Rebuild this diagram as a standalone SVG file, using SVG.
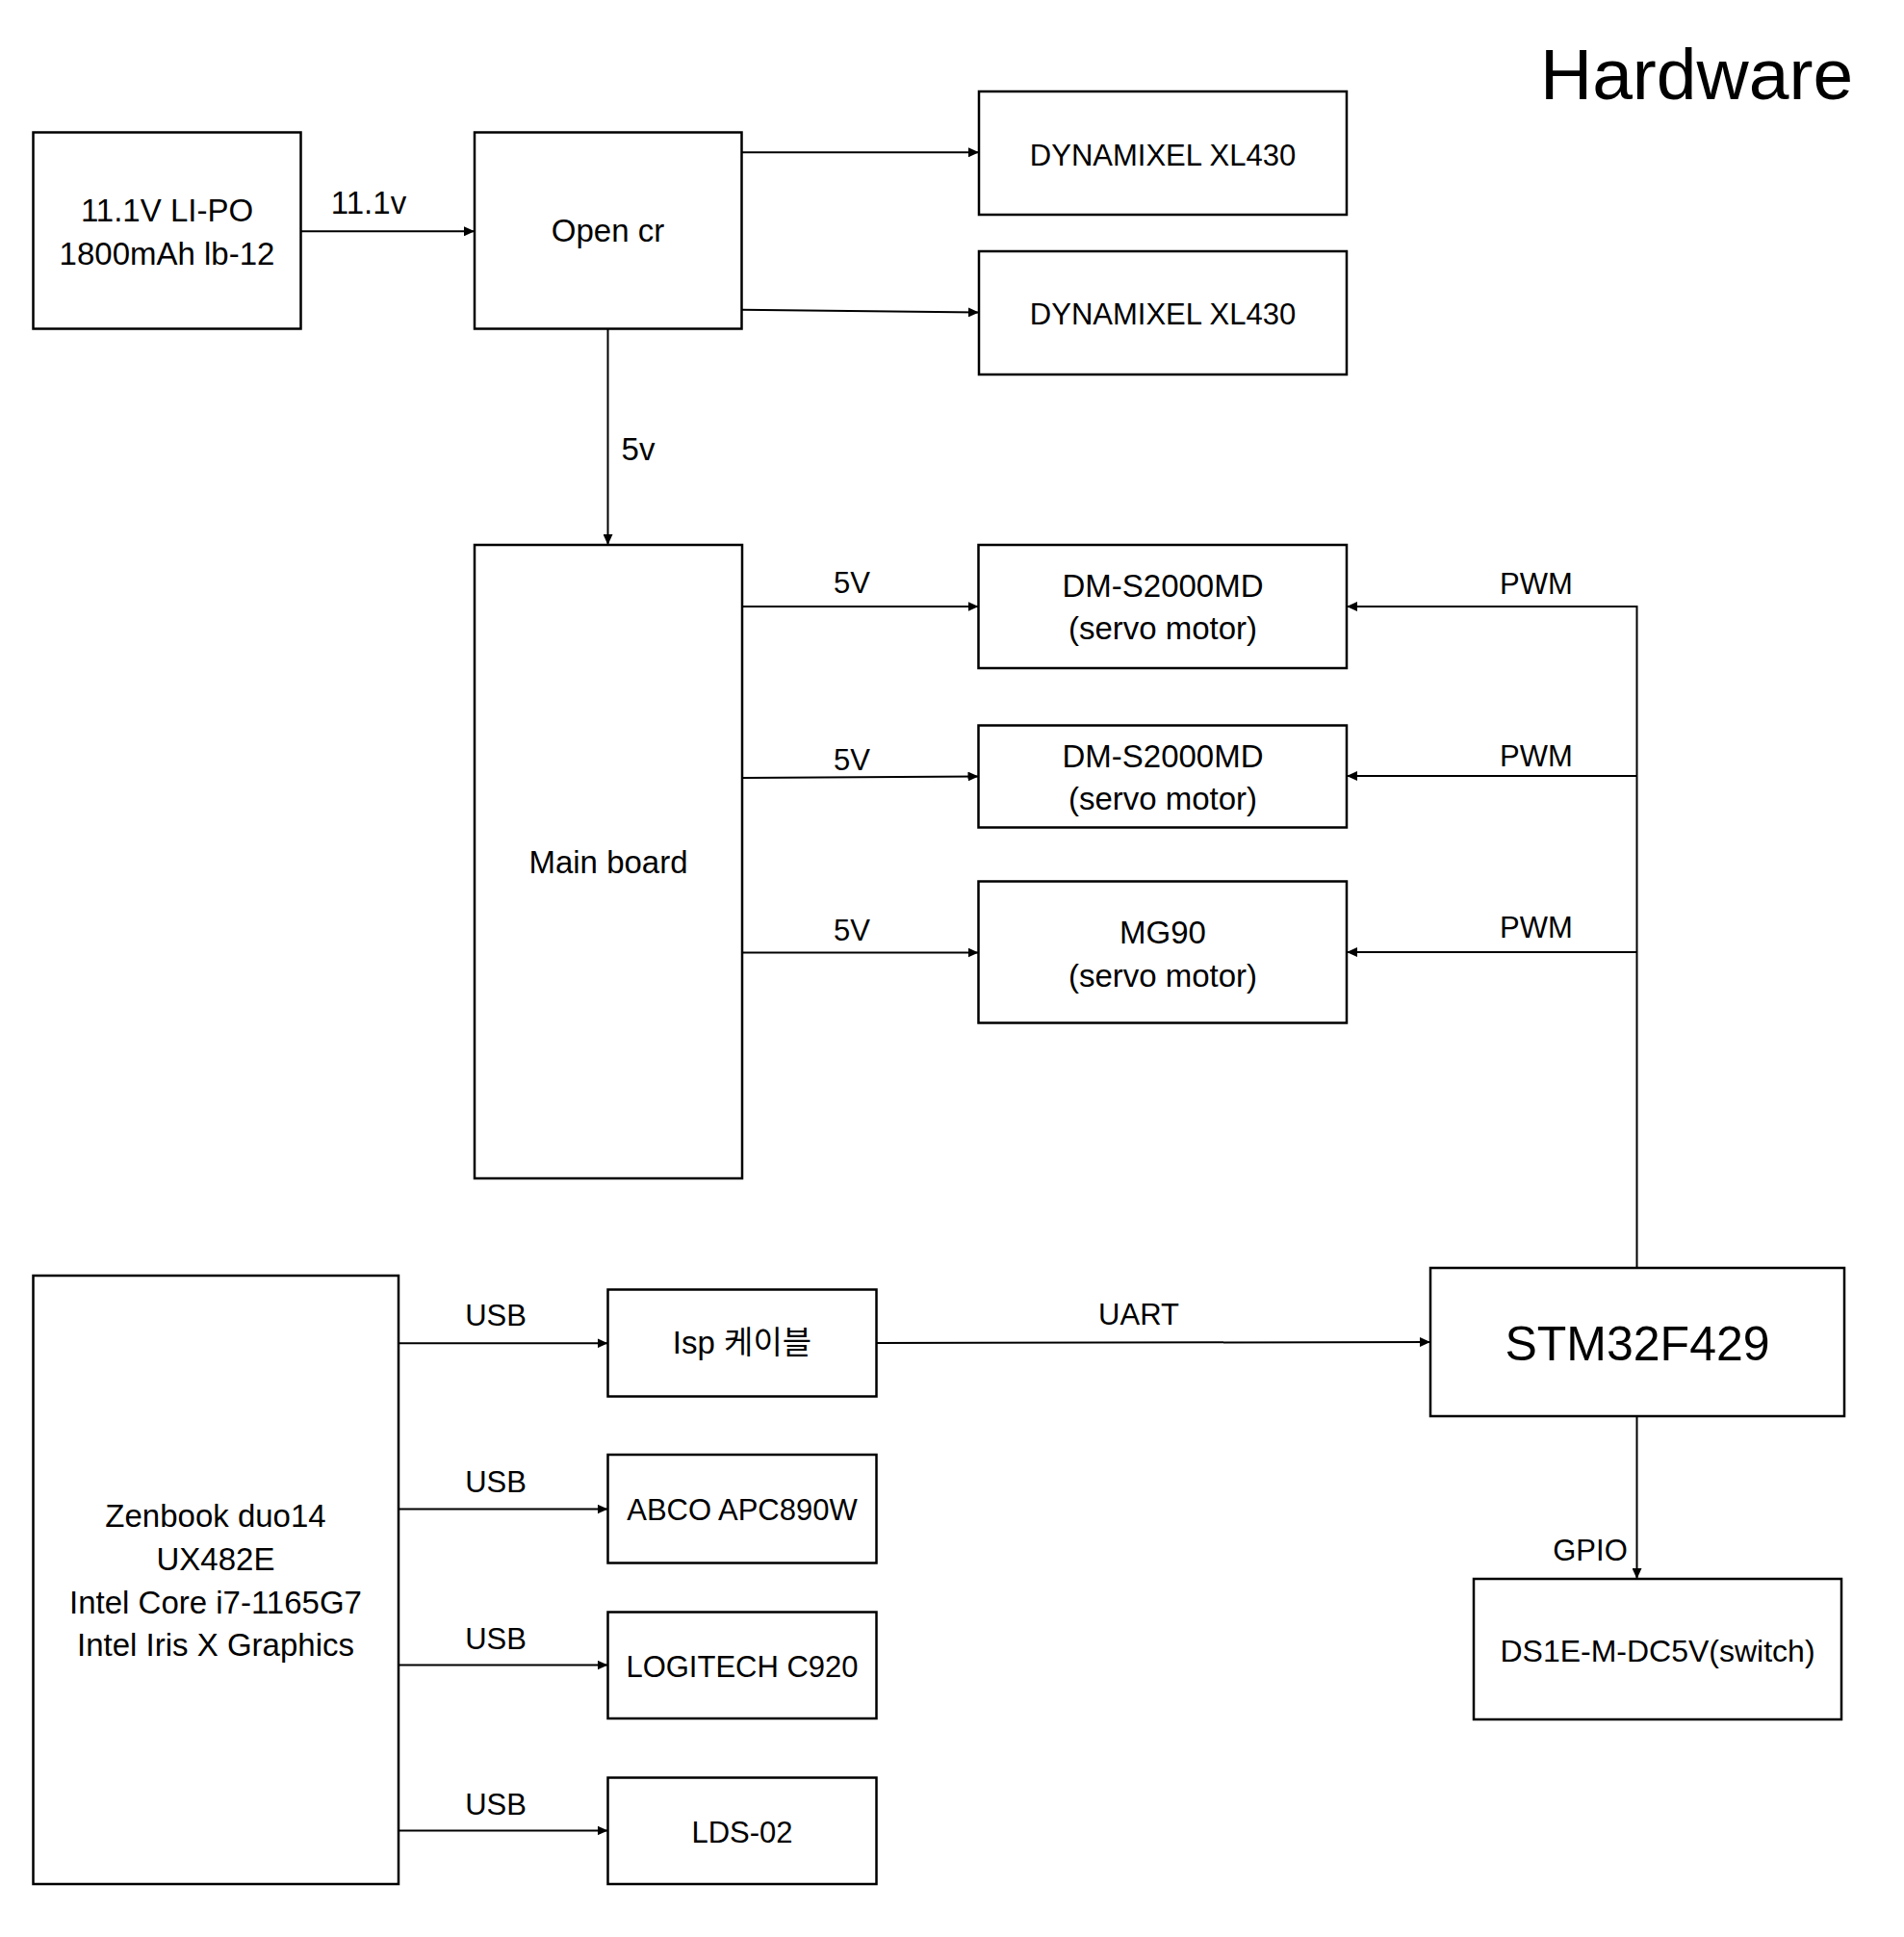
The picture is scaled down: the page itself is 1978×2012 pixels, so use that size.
<svg xmlns="http://www.w3.org/2000/svg" width="1978" height="2012" viewBox="0 0 1978 2012">
<style>
.box{fill:#fff;stroke:#000;stroke-width:2.5}
.t{font-family:"Liberation Sans","Noto Sans CJK KR",sans-serif;font-size:33px;fill:#000;text-anchor:middle}
.c{font-family:"Liberation Sans",sans-serif;font-size:31px;fill:#000;text-anchor:middle}
.ln{fill:none;stroke:#000;stroke-width:2}
.la{fill:none;stroke:#000;stroke-width:2;marker-end:url(#ah)}
</style>
<defs>
<marker id="ah" markerUnits="userSpaceOnUse" markerWidth="12" markerHeight="10" refX="11" refY="5" orient="auto">
<path d="M0,0 L11,5 L0,10 z" fill="#000"/>
</marker>
</defs>
<rect width="1978" height="2012" fill="#fff"/>
<text x="1600" y="103" style="font-family:'Liberation Sans',sans-serif;font-size:75px" fill="#000">Hardware</text>

<g id="connectors">
<line class="la" x1="312.5" y1="240.3" x2="493" y2="240.3"/>
<text class="t" x="383" y="222">11.1v</text>
<line class="la" x1="770.5" y1="158.3" x2="1017" y2="158.3"/>
<line class="la" x1="770.5" y1="321.8" x2="1017" y2="324.5"/>
<line class="la" x1="631.5" y1="341.5" x2="631.5" y2="566"/>
<text class="t" x="663" y="478">5v</text>
<line class="la" x1="771" y1="630" x2="1016.5" y2="630"/>
<text class="c" x="885" y="616">5V</text>
<line class="la" x1="771" y1="808" x2="1016.5" y2="806.5"/>
<text class="c" x="885" y="800">5V</text>
<line class="la" x1="771" y1="989.5" x2="1016.5" y2="989.5"/>
<text class="c" x="885" y="977">5V</text>
<line class="ln" x1="1700.5" y1="1317" x2="1700.5" y2="629"/>
<line class="la" x1="1700.5" y1="630" x2="1399" y2="630"/>
<text class="c" x="1596" y="617">PWM</text>
<line class="la" x1="1700.5" y1="806" x2="1399" y2="806"/>
<text class="c" x="1596" y="796">PWM</text>
<line class="la" x1="1700.5" y1="989" x2="1399" y2="989"/>
<text class="c" x="1596" y="974">PWM</text>
<line class="la" x1="414" y1="1395.3" x2="631.5" y2="1395.3"/>
<text class="c" x="515" y="1377">USB</text>
<line class="la" x1="414" y1="1567.6" x2="631.5" y2="1567.6"/>
<text class="c" x="515" y="1549.5">USB</text>
<line class="la" x1="414" y1="1729.6" x2="631.5" y2="1729.6"/>
<text class="c" x="515" y="1713">USB</text>
<line class="la" x1="414" y1="1901.4" x2="631.5" y2="1901.4"/>
<text class="c" x="515" y="1885">USB</text>
<line class="la" x1="910.5" y1="1395" x2="1486" y2="1394"/>
<text class="c" x="1183" y="1376">UART</text>
<line class="la" x1="1700.5" y1="1471" x2="1700.5" y2="1640"/>
<text class="c" x="1652" y="1621">GPIO</text>
</g>

<g id="battery">
<rect class="box" x="34.5" y="137.5" width="278" height="204"/>
<text class="t" x="173.5" y="229.6">11.1V LI-PO</text>
<text class="t" x="173.5" y="274.8">1800mAh lb-12</text>
</g>
<g id="opencr">
<rect class="box" x="493" y="137.5" width="277.5" height="204"/>
<text class="t" x="631.5" y="251">Open cr</text>
</g>
<g id="dynamixel1">
<rect class="box" x="1017" y="95" width="382" height="128"/>
<text class="c" x="1208" y="171.5">DYNAMIXEL XL430</text>
</g>
<g id="dynamixel2">
<rect class="box" x="1017" y="261" width="382" height="128"/>
<text class="c" x="1208" y="337">DYNAMIXEL XL430</text>
</g>
<g id="mainboard">
<rect class="box" x="493" y="566" width="278" height="658"/>
<text class="t" x="632" y="907">Main board</text>
</g>
<g id="servo1">
<rect class="box" x="1016.5" y="566" width="382.5" height="128"/>
<text class="t" x="1208" y="619.5">DM-S2000MD</text>
<text class="t" x="1208" y="664">(servo motor)</text>
</g>
<g id="servo2">
<rect class="box" x="1016.5" y="753.5" width="382.5" height="106"/>
<text class="t" x="1208" y="797">DM-S2000MD</text>
<text class="t" x="1208" y="841">(servo motor)</text>
</g>
<g id="mg90">
<rect class="box" x="1016.5" y="915.5" width="382.5" height="147"/>
<text class="t" x="1208" y="980">MG90</text>
<text class="t" x="1208" y="1025">(servo motor)</text>
</g>
<g id="zenbook">
<rect class="box" x="34.5" y="1325" width="379.5" height="632"/>
<text class="t" x="224" y="1586">Zenbook duo14</text>
<text class="t" x="224" y="1631">UX482E</text>
<text class="t" x="224" y="1676">Intel Core i7-1165G7</text>
<text class="t" x="224" y="1720">Intel Iris X Graphics</text>
</g>
<g id="isp">
<rect class="box" x="631.5" y="1339.5" width="279" height="111"/>
<text class="t" x="771" y="1406">Isp 케이블</text>
</g>
<g id="abco">
<rect class="box" x="631.5" y="1511" width="279" height="112.5"/>
<text class="c" x="771" y="1579">ABCO APC890W</text>
</g>
<g id="logitech">
<rect class="box" x="631.5" y="1674.5" width="279" height="110.5"/>
<text class="c" x="771" y="1742">LOGITECH C920</text>
</g>
<g id="lds">
<rect class="box" x="631.5" y="1846.5" width="279" height="110.5"/>
<text class="c" x="771" y="1914">LDS-02</text>
</g>
<g id="stm32">
<rect class="box" x="1486" y="1317" width="430" height="154"/>
<text class="t" x="1701" y="1413" style="font-size:50px">STM32F429</text>
</g>
<g id="switch">
<rect class="box" x="1531" y="1640" width="382" height="146"/>
<text class="t" x="1722" y="1726" style="font-size:32px">DS1E-M-DC5V(switch)</text>
</g>
</svg>
